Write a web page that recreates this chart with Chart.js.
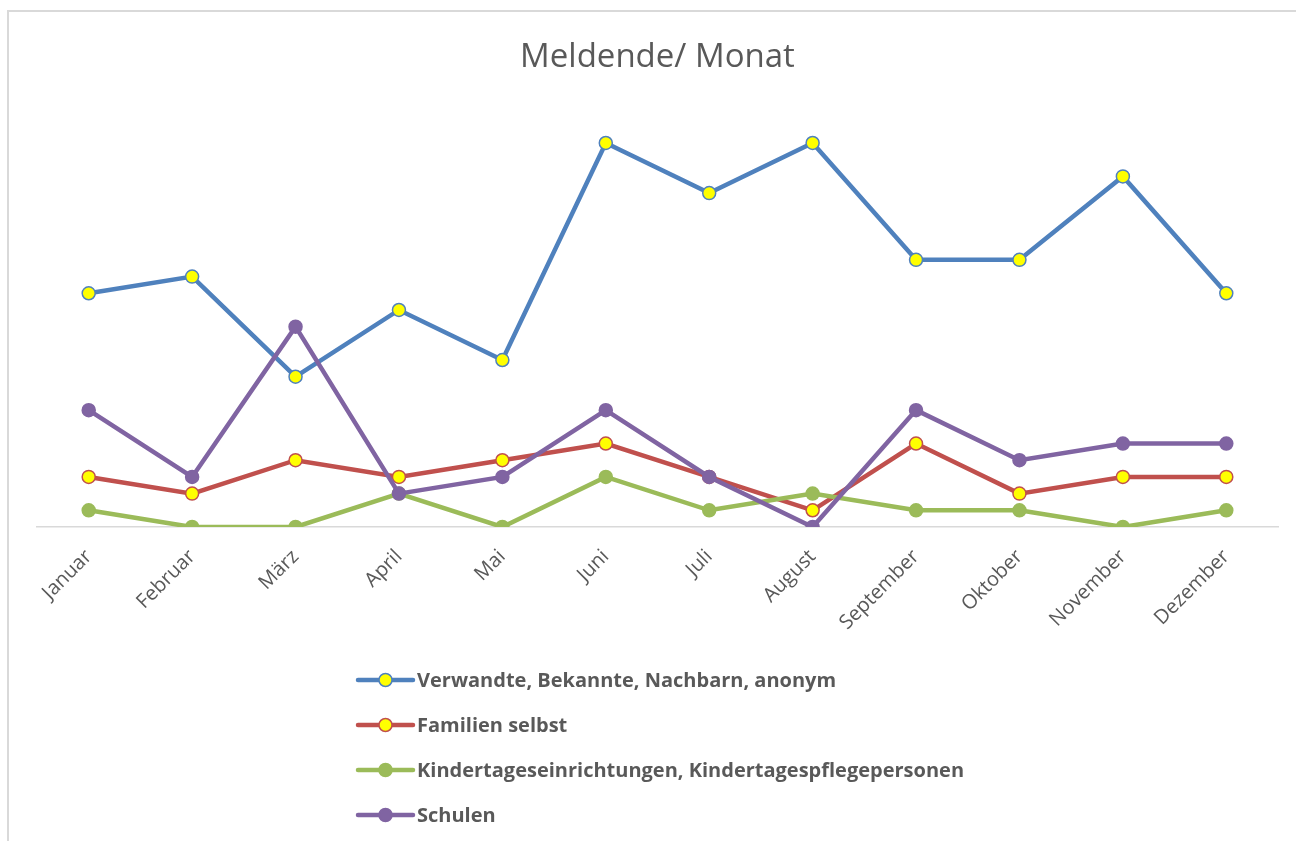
<!DOCTYPE html>
<html lang="de">
<head>
<meta charset="utf-8">
<title>Meldende/ Monat</title>
<script src="https://cdn.jsdelivr.net/npm/chart.js@4.4.1/dist/chart.umd.min.js"></script>
<style>
  html, body { margin: 0; padding: 0; background: #fff; }
  #wrap { position: relative; width: 1296px; height: 841px; overflow: hidden; }
  #frame {
    position: absolute; left: 7px; top: 10px; width: 1400px; height: 900px;
    border-left: 2px solid #d9d9d9; border-top: 2px solid #d9d9d9;
  }
  #chart { position: absolute; left: 0; top: 0; }
</style>
</head>
<body>
<div id="wrap">
  <div id="frame"></div>
  <canvas id="chart" width="1296" height="841"></canvas>
</div>
<script>
const months = ['Januar', 'Februar', 'März', 'April', 'Mai', 'Juni', 'Juli', 'August',
    'September', 'Oktober', 'November', 'Dezember'];

const verwandte = [14, 15, 9, 13, 10, 23, 20, 23, 16, 16, 21, 14];
const familien = [3, 2, 4, 3, 4, 5, 3, 1, 5, 2, 3, 3];
const kita = [1, 0, 0, 2, 0, 3, 1, 2, 1, 1, 0, 1];
const schulen = [7, 3, 12, 2, 3, 7, 3, 0, 7, 4, 5, 5];

const seriesNames = [
    'Verwandte, Bekannte, Nachbarn, anonym',
    'Familien selbst',
    'Kindertageseinrichtungen, Kindertagespflegepersonen',
    'Schulen'
];

const TEXT = '#595959';
const FONT = "'Open Sans', sans-serif";

function series(label, data, color, pointFill, order) {
    return {
        label: label,
        data: data,
        borderColor: color,
        backgroundColor: color,
        borderWidth: 4.5,
        pointRadius: 6.5,
        pointHoverRadius: 6.5,
        pointBackgroundColor: pointFill,
        pointBorderColor: color,
        pointBorderWidth: 1.5,
        tension: 0,
        order: order
    };
}

// legend drawn below the x labels, one entry per row
const stackedLegend = {
    id: 'stackedLegend',
    afterDraw(chart) {
        const ctx = chart.ctx;
        const left = 358;
        const top = chart.chartArea.bottom + 153;
        ctx.save();
        chart.data.datasets.forEach((ds, i) => {
            const y = top + i * 45;
            ctx.lineCap = 'round';
            ctx.strokeStyle = ds.borderColor;
            ctx.lineWidth = 4.5;
            ctx.beginPath();
            ctx.moveTo(left, y);
            ctx.lineTo(left + 55, y);
            ctx.stroke();
            ctx.beginPath();
            ctx.arc(left + 27.5, y, 6.5, 0, Math.PI * 2);
            ctx.fillStyle = ds.pointBackgroundColor;
            ctx.fill();
            ctx.lineWidth = 1.5;
            ctx.stroke();
            ctx.fillStyle = TEXT;
            ctx.font = 'bold 20px ' + FONT;
            ctx.textBaseline = 'middle';
            ctx.textAlign = 'left';
            ctx.fillText(ds.label, left + 59, y + 1);
        });
        ctx.restore();
    }
};

Chart.defaults.font.family = FONT;
Chart.defaults.color = TEXT;

new Chart(document.getElementById('chart').getContext('2d'), {
    type: 'line',
    data: {
        labels: months,
        datasets: [
            series(seriesNames[0], verwandte, '#4f81bd', '#ffff00', 4),
            series(seriesNames[1], familien, '#c0504d', '#ffff00', 3),
            series(seriesNames[2], kita, '#9bbb59', '#9bbb59', 2),
            series(seriesNames[3], schulen, '#8064a2', '#8064a2', 1)
        ]
    },
    options: {
        responsive: false,
        animation: false,
        layout: {
            padding: { left: 37, right: 18, top: 0, bottom: 0 }
        },
        plugins: {
            legend: { display: false },
            tooltip: { enabled: false },
            title: {
                display: true,
                text: 'Meldende/ Monat',
                color: TEXT,
                font: { size: 33, weight: 'normal' },
                padding: { top: 38, bottom: 32 }
            }
        },
        scales: {
            x: {
                offset: true,
                grid: { display: false, drawTicks: false },
                border: { display: true, color: '#d9d9d9', width: 1.5 },
                ticks: {
                    color: TEXT,
                    font: { size: 20 },
                    minRotation: 45,
                    maxRotation: 45,
                    padding: 18,
                    autoSkip: false
                },
                afterFit(scale) {
                    scale.height = 314;
                }
            },
            y: {
                display: false,
                min: 0,
                max: 25
            }
        }
    },
    plugins: [stackedLegend]
});
</script>
</body>
</html>
